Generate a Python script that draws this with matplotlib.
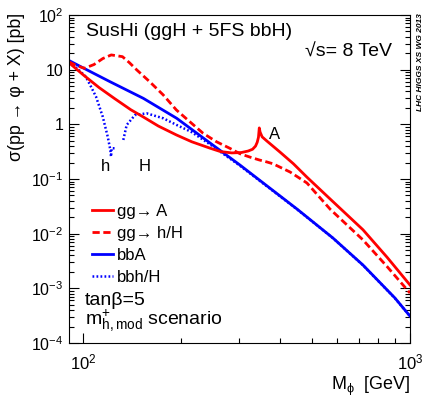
import math
import matplotlib
matplotlib.use('Agg')
import matplotlib.pyplot as plt
from matplotlib.lines import Line2D
from matplotlib.ticker import FixedLocator, FuncFormatter, NullFormatter

plt.rcParams['font.family'] = ['Liberation Sans', 'DejaVu Sans']
plt.rcParams['mathtext.fontset'] = 'custom'
plt.rcParams['mathtext.rm'] = 'Liberation Sans'
plt.rcParams['mathtext.it'] = 'Liberation Sans:italic'

# gg -> A (solid red)
ggA_m = [90.6, 100, 112, 125, 140, 153, 170, 193, 215, 245, 263, 285, 305, 320, 330,
         337, 341, 344, 346, 348, 353, 365, 400, 440, 484, 570, 718, 851, 1000]
ggA_xs = [13.4, 8.1, 4.7, 2.95, 1.85, 1.36, 0.93, 0.64, 0.48, 0.365, 0.318, 0.30, 0.305, 0.325, 0.35,
          0.40, 0.47, 0.58, 0.86, 0.72, 0.59, 0.495, 0.312, 0.19, 0.108, 0.043, 0.0118, 0.0037, 0.00115]

# gg -> h/H (dashed red)
ggH_m = [90.6, 95, 101, 108, 115, 122, 132, 138.5, 146, 160, 176, 193, 212, 233, 256, 281,
         302, 325, 346, 365, 381, 430, 484, 570, 718, 851, 1000]
ggH_xs = [13.9, 12.0, 10.6, 12.4, 16.0, 18.6, 17.3, 13.5, 9.9, 6.0, 3.44, 1.83, 1.12, 0.685, 0.48, 0.365,
          0.29, 0.25, 0.223, 0.205, 0.19, 0.134, 0.0845, 0.028, 0.0077, 0.0025, 0.00082]

# bbA (solid blue)
bbA_m = [90.6, 100, 120.9, 152.9, 193.4, 244.6, 302, 360, 451, 581, 718, 899, 1000]
bbA_xs = [14.7, 10.8, 6.03, 2.99, 1.29, 0.456, 0.180, 0.080, 0.0283, 0.00834, 0.00267, 0.000667, 0.00031]

# bbh (dotted blue, light scalar branch)
bbh_m = [90.6, 96, 102, 106, 109.6, 114.9, 119, 121.2, 121.8, 122.3, 126]
bbh_xs = [13.4, 10.5, 7.43, 4.76, 3.2, 1.38, 0.594, 0.34, 0.256, 0.365, 0.365]

# bbH (dotted blue, heavy scalar branch)
bbH_m = [132.8, 136, 144.2, 156.5, 176, 193.4, 215, 244.6, 302, 451, 581, 718, 899, 1000]
bbH_xs = [0.518, 0.973, 1.48, 1.59, 1.29, 0.973, 0.72, 0.43, 0.175, 0.028, 0.0083, 0.00265, 0.00066, 0.00031]

red = '#ff0000'
blue = '#0000ff'
dash = (0, (2.6, 1.3))
dot = (0, (0.7, 0.9))

fig = plt.figure(figsize=(4.25, 4.0), dpi=100)
ax = fig.add_axes([69/425, 57/400, 341/425, 328/400])

ax.plot(bbH_m, bbH_xs, color=blue, lw=1.8, linestyle=dot)
ax.plot(bbh_m, bbh_xs, color=blue, lw=1.8, linestyle=dot)
ax.plot(bbA_m, bbA_xs, color=blue, lw=2)
ax.plot(ggH_m, ggH_xs, color=red, lw=2, linestyle=dash)
ax.plot(ggA_m, ggA_xs, color=red, lw=2)

ax.set_xscale('log')
ax.set_yscale('log')
ax.set_xlim(90.6, 1000)
ax.set_ylim(1e-4, 1e2)

ylabels = {100: '$\\mathregular{10^{2}}$', 10: '10', 1: '1', 0.1: '$\\mathregular{10^{-1}}$',
           0.01: '$\\mathregular{10^{-2}}$', 0.001: '$\\mathregular{10^{-3}}$', 0.0001: '$\\mathregular{10^{-4}}$'}


def yfmt(v, pos):
    for k in ylabels:
        if abs(v - k) / k < 1e-6:
            return ylabels[k]
    return ''


ax.yaxis.set_major_locator(FixedLocator(list(ylabels.keys())))
ax.yaxis.set_major_formatter(FuncFormatter(yfmt))
ax.yaxis.set_minor_locator(FixedLocator([m * 10.0**e for e in range(-4, 2) for m in range(2, 10)]))
ax.yaxis.set_minor_formatter(NullFormatter())

ax.xaxis.set_major_locator(FixedLocator([100, 1000]))
ax.xaxis.set_major_formatter(FuncFormatter(lambda v, p: '$\\mathregular{10^{%d}}$' % round(math.log10(v))))
ax.xaxis.set_minor_locator(FixedLocator(list(range(200, 1000, 100))))
ax.xaxis.set_minor_formatter(NullFormatter())

ax.tick_params(which='both', direction='in', left=True, right=True, top=False, bottom=True)
ax.tick_params(which='major', length=7, width=0.8)
ax.tick_params(which='minor', length=3.6, width=0.8)
ax.tick_params(axis='y', which='major', labelsize=11.5, pad=4)
ax.tick_params(axis='x', which='major', labelsize=12, pad=7)
for s in ax.spines.values():
    s.set_linewidth(0.8)

# legend
handles = [Line2D([], [], color=red, lw=2),
           Line2D([], [], color=red, lw=2, linestyle=dash),
           Line2D([], [], color=blue, lw=2),
           Line2D([], [], color=blue, lw=1.8, linestyle=dot)]
labels = ['gg→ A', 'gg→ h/H', 'bbA', 'bbh/H']
ax.legend(handles, labels, loc='center left', bbox_to_anchor=(0.0666, 0.300), frameon=False,
          fontsize=12, handlelength=1.3, handletextpad=0.2, labelspacing=0.42,
          borderpad=0, borderaxespad=0)

ax.text(0.05, 0.949, 'SusHi (ggH + 5FS bbH)', transform=ax.transAxes, fontsize=14, va='center', ha='left')
ax.text(0.692, 0.888, '√s= 8 TeV', transform=ax.transAxes, fontsize=14, va='center', ha='left')
ax.text(0.047, 0.131, 'tanβ=5', transform=ax.transAxes, fontsize=14, va='center', ha='left')
ax.text(0.047, 0.068, '$\\mathregular{m^{+}_{h,mod}}$ scenario', transform=ax.transAxes,
        fontsize=14, va='center', ha='left')

ax.text(116.8, 0.168, 'h', fontsize=12, ha='center', va='center')
ax.text(154.7, 0.168, 'H', fontsize=12, ha='center', va='center')
ax.text(386, 0.665, 'A', fontsize=12, ha='center', va='center')

ax.text(1.0, -0.133, '$\\mathregular{M_{\\phi}}$  [GeV]', transform=ax.transAxes,
        fontsize=13, ha='right', va='center')
fig.text(17/425, 1 - 13/400, 'σ(pp → φ + X) [pb]', rotation=90, fontsize=12.8,
         ha='center', va='top')
fig.text(421/425, 1 - 13/400, 'LHC HIGGS XS WG 2013', rotation=90, fontsize=6,
         fontweight='bold', fontstyle='italic', ha='center', va='top')

fig.savefig('out.png', dpi=100)
